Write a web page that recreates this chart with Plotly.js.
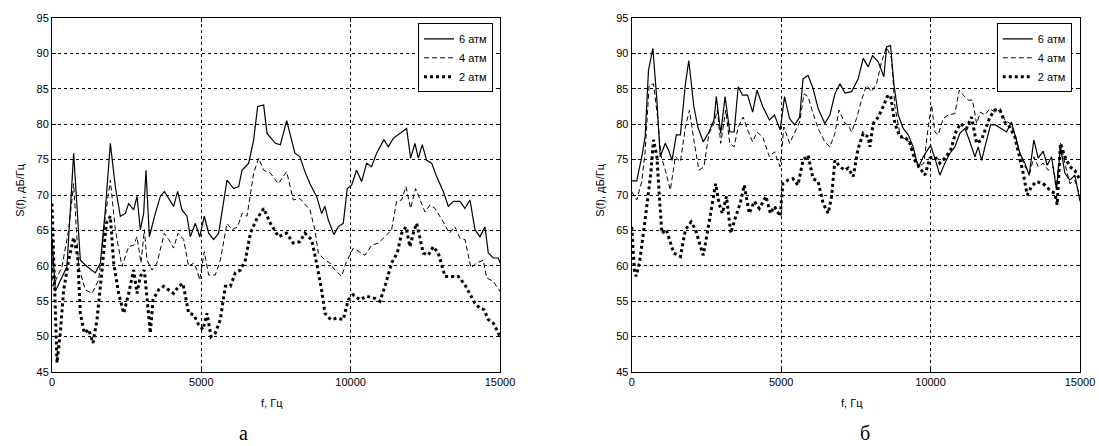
<!DOCTYPE html>
<html>
<head>
<meta charset="utf-8">
<script src="https://cdn.plot.ly/plotly-3.0.1.min.js"></script>
<style>html,body{margin:0;padding:0;background:#fff;}#chart{width:1099px;height:446px;}</style>
</head>
<body>
<div id="chart"></div>
<script>
// ---- Panel "а" ----
const freqA6 = [0,112,502,725,949,1172,1451,1618,1786,1953,2120,2288,2455,2567,2734,2846,2958,3069,3147,3259,3460,3627,3761,4073,4207,4352,4520,4631,4799,4944,5100,5245,5413,5580,5859,6082,6250,6362,6585,6752,6886,7087,7199,7478,7646,7857,8133,8301,8468,8636,8859,9026,9138,9249,9439,9584,9752,9886,10031,10198,10366,10533,10701,10868,11114,11259,11426,11650,11873,12007,12152,12264,12398,12543,12711,12878,13101,13269,13436,13659,13827,13994,14162,14329,14497,14609,14776,14944,15000];
const valA6 = [64,56.4,59.9,75.9,60.8,59.9,59,60.4,67.9,77.3,71.2,67,67.4,68.8,67.9,69.8,65.1,67.4,73.5,64.1,67.4,69.8,70.5,68.4,70.5,67.9,67,64.1,66,64.1,67,64.6,63.7,64.6,72.1,70.9,71.2,73.5,74.5,77.8,82.5,82.7,78.7,77.3,77.1,80.5,75.9,75.4,73.3,71.6,69.8,67.4,68.4,66.5,64.4,65.5,66,70.9,71.4,73.5,71.9,74.5,74,75.9,77.8,76.8,78,78.7,79.4,75.2,77.3,75.2,77.1,74.9,74.5,72.6,70.5,68.4,69.1,69.1,68.1,69.3,65.1,64.1,65.5,61.8,61.1,61.1,60.4];

const freqA4 = [0,33,335,558,725,893,1116,1339,1562,1786,1953,2120,2344,2567,2734,2846,2980,3091,3181,3348,3516,3761,3906,4073,4218,4408,4576,4743,4855,4944,5100,5245,5468,5636,5859,6027,6216,6362,6529,6752,6920,7087,7310,7578,7857,8078,8301,8636,8803,8915,9138,9305,9472,9696,9841,10086,10287,10477,10701,10924,11147,11371,11538,11706,11851,12007,12175,12320,12487,12655,12822,13101,13302,13492,13659,13827,14028,14217,14441,14553,14776,15000];
const valA4 = [62,57.1,59.9,65.1,71.6,59.9,56.6,56.1,58,67,72.1,65.1,59.9,62.7,62.9,64.1,60.4,65.1,60.8,59.4,60.4,64.6,63.7,62.5,64.6,63.7,59.9,60.4,59.4,58,62,58.7,58.7,60.8,66,65.1,65.5,67.4,67,73.1,75.2,73.5,73.1,71.6,73.3,69.3,69.5,67.9,65.1,61.8,60.8,60.4,59.4,58.5,60.4,62.5,62,61.5,62.9,63.2,64.1,65.1,69.1,69.3,71.2,68.1,70.9,69.3,67.6,68.6,68.1,66.2,64.6,65.5,63.9,63.7,59.7,60.4,60.8,58.3,57.8,56.4];

const freqA2 = [0,89,167,279,391,558,725,860,949,1083,1228,1373,1507,1674,1819,1953,2065,2232,2400,2567,2734,2846,2958,3091,3181,3292,3382,3571,3739,3906,4073,4240,4386,4576,4743,4910,5056,5190,5323,5468,5636,5803,5971,6138,6306,6474,6641,6842,7087,7310,7589,7857,8078,8301,8468,8691,8859,9026,9138,9327,9528,9752,9919,10086,10310,10533,10813,10980,11147,11371,11561,11706,11851,11985,12097,12208,12320,12431,12599,12766,12934,13157,13380,13604,13827,13994,14162,14329,14463,14609,14776,14944,15000];
const valA2 = [68.8,55.2,46.3,50.5,56.6,60.8,64,61.3,53.3,50.5,51,49.1,52.4,59.4,66,67,60.4,56.1,53.3,56.1,59.4,56.1,58.5,59.4,55.2,50.5,55.2,56.6,57.1,56.6,56.1,57.1,57.5,53.3,53.1,51.7,51,53.3,50,50.5,52.4,57.1,57.1,59,59.4,60.8,64.6,66.5,68.1,66,64.1,64.6,63.2,63.4,64.6,63.7,60.4,56.6,53.3,52.4,52.6,52.4,55.2,55.9,55.2,55.7,55.4,55,57.1,60.4,61.8,64.6,65.5,62.7,64.6,66,64.1,61.8,61.5,62.7,61.8,58.5,58.5,58.5,57.3,56.1,54.7,54,53.8,52.4,51.9,50.5,50];

// ---- Panel "б" ----
const freqB6 = [0,169,337,450,562,708,843,955,1124,1236,1349,1495,1630,1798,1911,2079,2214,2394,2585,2754,2832,2979,3125,3282,3428,3563,3709,3878,4046,4193,4384,4608,4777,4968,5114,5283,5451,5620,5733,5901,6070,6238,6463,6632,6800,6969,7137,7356,7579,7746,7914,8059,8248,8438,8527,8661,8773,8918,9085,9252,9420,9587,9754,9888,10000,10145,10312,10479,10646,10814,10981,11148,11293,11483,11594,11706,11873,12007,12174,12375,12542,12709,12854,12988,13155,13300,13456,13601,13768,13902,14047,14214,14348,14493,14660,14827,15000];
const valB6 = [72,72,75.4,78.2,87.6,90.7,83.4,75.4,77.3,76.3,74.9,78.5,78.5,85.7,89,82.5,79.6,77.5,78.9,80.6,83.9,78.7,83.9,78.9,78.9,85.3,84.1,84.1,81.7,84.8,82.5,80.6,81.3,79.2,83.9,80.8,79.9,81,86.4,86.9,85,82.2,80.1,81.3,84.3,85.7,84.4,84.6,86.4,89.3,88.1,89.7,88.8,86.7,90.9,91.1,85.7,81.3,79.4,78.5,76.8,73.8,75.4,76.3,77,75.2,72.8,74.5,75.9,76.8,78.7,79.4,77.8,75.4,76.8,74.9,77.8,79.9,79.9,79.4,78.9,80.3,77.8,75.9,74.5,72.8,77.8,75.2,76.2,74.2,75.4,70.7,76.8,73.1,72.1,72.8,69.1];

const freqB4 = [0,169,337,450,584,731,865,977,1124,1293,1461,1630,1798,1933,2079,2248,2417,2585,2754,2866,2979,3147,3282,3428,3563,3732,3878,4046,4193,4384,4608,4777,4968,5092,5283,5451,5620,5766,5901,6070,6238,6463,6632,6800,6935,7137,7244,7356,7523,7690,7858,8025,8192,8359,8527,8694,8806,8973,9141,9308,9476,9621,9777,9921,10033,10145,10256,10423,10591,10814,10959,11093,11260,11405,11539,11672,11817,11984,12152,12319,12486,12653,12821,12988,13155,13322,13456,13601,13768,13935,14103,14214,14348,14493,14660,14827,15000];
const valB4 = [70.5,69.3,71.9,76.1,85.5,85.7,81,75.6,73.5,70.7,75.4,74.7,79.6,82,77.8,73.5,74,78.7,80.1,82,77.3,82,77.3,76.8,79.6,81,79.2,77.5,78.9,78.2,75.4,76.1,74,79.6,77.3,78.7,80.3,84.3,83.9,81.5,79.4,77.5,76.8,78.7,82,80.1,79.9,78.9,80.8,83.4,85.5,84.6,85.7,88.8,90.9,89.3,82.5,78.7,77.8,77.5,75.4,74,74.5,79.6,82.7,78.9,78.5,80.8,81.3,81.5,84.8,84.1,83.4,83.4,80.1,81.7,81.3,82.2,81.7,82,80.6,80.1,78.7,75.9,74,73.1,75.4,74,74.5,73.5,74,71.2,77.3,74.5,71.6,72.1,69.8];

const freqB2 = [0,90,146,259,393,506,641,731,843,933,1012,1158,1293,1405,1630,1798,1989,2135,2304,2394,2529,2675,2810,2922,3035,3170,3316,3484,3630,3765,3934,4103,4271,4496,4642,4777,4968,5058,5227,5395,5564,5733,5901,6070,6238,6407,6575,6688,6800,6969,7137,7244,7411,7579,7746,7914,7970,8081,8248,8416,8549,8661,8806,8973,9141,9308,9476,9643,9810,9977,10145,10312,10479,10669,10847,11004,11204,11371,11539,11706,11851,11984,12152,12319,12486,12653,12821,12966,13099,13233,13378,13545,13768,13991,14159,14237,14348,14493,14660,14827,15000];
const valB2 = [65.5,59.4,58.5,60.4,64.6,68.4,73.1,77.8,75.4,69.3,64.6,65.1,63.2,61.8,61.3,65.1,66.2,65.1,62.7,61.5,64.6,68.4,71.6,68.8,67.4,69.8,64.6,67,68.8,71.4,67.4,69.1,68.1,69.8,67.4,68.4,67,71.6,72.1,72.3,71.4,74.9,75.6,72.3,71.9,68.8,67.4,69.8,74.9,74,73.5,73.8,72.6,76.6,78.7,78.2,76.8,80.1,81,82.5,83.9,84.1,80.1,78.2,78.2,77.3,74.9,73.8,72.8,75.2,75.4,74.5,75.2,76.3,78.9,80.1,79.4,81,77.3,77.8,79.6,81,82,82,80.3,79.6,78.2,75.4,73.1,70,71.2,71.9,71.6,70.7,70.2,68.6,77.3,75.4,74,73.5,72.1];

const seriesNames = ['6 атм', '4 атм', '2 атм'];
const xTicks = [0, 5000, 10000, 15000];
const xTickText = ['0', '5000', '10000', '15000'];
const yTicks = [45, 50, 55, 60, 65, 70, 75, 80, 85, 90, 95];
const xTitle = 'f, Гц';
const yTitle = 'S(f), дБ/Гц';
const panelLabels = ['а', 'б'];

const styles = [
  {color: '#000', width: 1.2, dash: 'solid'},
  {color: '#000', width: 1, dash: '5px,3px'},
  {color: '#000', width: 3, dash: 'dot'}
];

const panelA = [[freqA6, valA6], [freqA4, valA4], [freqA2, valA2]];
const panelB = [[freqB6, valB6], [freqB4, valB4], [freqB2, valB2]];

const traces = [];
panelA.forEach((s, i) => traces.push({
  x: s[0], y: s[1], type: 'scatter', mode: 'lines', name: seriesNames[i],
  line: styles[i], xaxis: 'x', yaxis: 'y', legend: 'legend'
}));
panelB.forEach((s, i) => traces.push({
  x: s[0], y: s[1], type: 'scatter', mode: 'lines', name: seriesNames[i],
  line: styles[i], xaxis: 'x2', yaxis: 'y2', legend: 'legend2'
}));

const tickFont = {family: 'Liberation Sans, Arial, sans-serif', size: 11, color: '#000'};
function xAxis(domain, anchor) {
  return {
    domain: domain, anchor: anchor, range: [0, 15000],
    tickmode: 'array', tickvals: xTicks, ticktext: xTickText,
    showline: true, linecolor: '#000', linewidth: 1, mirror: 'ticks',
    ticks: 'inside', ticklen: 4, tickcolor: '#000',
    showgrid: true, gridcolor: '#000', griddash: '3px,3px', gridwidth: 1,
    zeroline: false, tickfont: tickFont
  };
}
function yAxis(anchor) {
  return {
    anchor: anchor, range: [45, 95], tickmode: 'array', tickvals: yTicks,
    showline: true, linecolor: '#000', linewidth: 1, mirror: 'ticks',
    ticks: 'inside', ticklen: 4, tickcolor: '#000',
    showgrid: true, gridcolor: '#000', griddash: '3px,3px', gridwidth: 1,
    zeroline: false, tickfont: tickFont
  };
}
const legendBase = {
  bordercolor: '#000', borderwidth: 1, bgcolor: '#fff',
  font: {family: 'Liberation Sans, Arial, sans-serif', size: 11, color: '#000'},
  xanchor: 'right', yanchor: 'top', y: 0.985, tracegroupgap: 0,
  entrywidth: 48, entrywidthmode: 'pixels'
};
const labelFont = {family: 'Liberation Serif, Times New Roman, serif', size: 20, color: '#000'};
function txt(text, x, y, opts) {
  return Object.assign({text: text, xref: 'paper', yref: 'paper', x: x, y: y, showarrow: false,
    xanchor: 'center', yanchor: 'middle', borderpad: 0, font: tickFont}, opts || {});
}
const layout = {
  width: 1099, height: 446,
  margin: {l: 52, r: 19, t: 18, b: 74},
  paper_bgcolor: '#fff', plot_bgcolor: '#fff',
  xaxis: xAxis([0, 0.4358], 'y'),
  yaxis: yAxis('x'),
  xaxis2: xAxis([0.5639, 1], 'y2'),
  yaxis2: yAxis('x2'),
  legend: Object.assign({}, legendBase, {x: 0.429}),
  legend2: Object.assign({}, legendBase, {x: 0.992}),
  annotations: [
    txt(xTitle, 0.214, -0.0876),
    txt(xTitle, 0.778, -0.0876),
    txt(yTitle, -0.0311, 0.512, {textangle: -90}),
    txt(yTitle, 0.5331, 0.512, {textangle: -90}),
    txt(panelLabels[0], 0.1858, -0.206, {yanchor: 'bottom', font: labelFont}),
    txt(panelLabels[1], 0.7909, -0.206, {yanchor: 'bottom', font: labelFont})
  ],
  showlegend: true
};
Plotly.newPlot('chart', traces, layout, {displayModeBar: false, staticPlot: true});
</script>
</body>
</html>
